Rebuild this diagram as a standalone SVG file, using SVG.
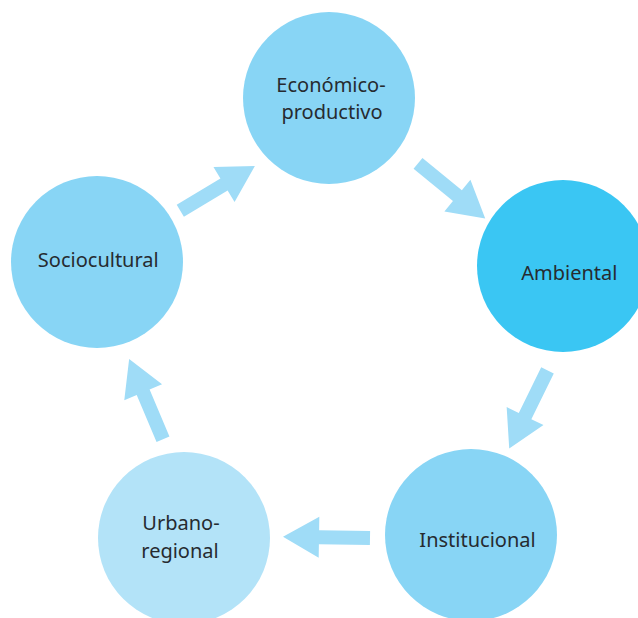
<svg xmlns="http://www.w3.org/2000/svg" xmlns:xlink="http://www.w3.org/1999/xlink" width="638" height="618" viewBox="0 0 638 618">
<style>
.node{fill:#88d5f5}
.amb{fill:#3ac6f3}
.urb{fill:#b3e3f8}
.arrow{fill:#9fdcf7}
text{font-family:"Noto Sans","DejaVu Sans",sans-serif;font-size:20px;fill:#262b30;text-anchor:middle}
</style>
<defs>
<path id="arr" d="M0,-7 L51,-7 L51,-20.5 L87,0 L51,20.5 L51,7 L0,7 Z"/>
</defs>
<rect width="638" height="618" fill="#ffffff"/>
<g id="connectors" class="arrow">
<use xlink:href="#arr" transform="translate(180.3,210.8) rotate(-31)"/>
<use xlink:href="#arr" transform="translate(418,163.3) rotate(39.4)"/>
<use xlink:href="#arr" transform="translate(547.5,370.3) rotate(116.1)"/>
<use xlink:href="#arr" transform="translate(370,538) rotate(180.9)"/>
<use xlink:href="#arr" transform="translate(163,439.2) rotate(-112.9)"/>
</g>
<g id="economico">
<circle class="node" cx="329" cy="98" r="86"/>
<text x="331" y="92">Económico-</text>
<text x="332" y="119.3">productivo</text>
</g>
<g id="ambiental">
<circle class="amb" cx="563" cy="266" r="86"/>
<text x="569.3" y="280">Ambiental</text>
</g>
<g id="institucional">
<circle class="node" cx="471" cy="535" r="86"/>
<text x="477.5" y="546.7">Institucional</text>
</g>
<g id="urbano">
<circle class="urb" cx="184" cy="538" r="86"/>
<text x="181" y="530">Urbano-</text>
<text x="180" y="557.7">regional</text>
</g>
<g id="sociocultural">
<circle class="node" cx="97" cy="262" r="86"/>
<text x="98.3" y="267.3">Sociocultural</text>
</g>
</svg>
